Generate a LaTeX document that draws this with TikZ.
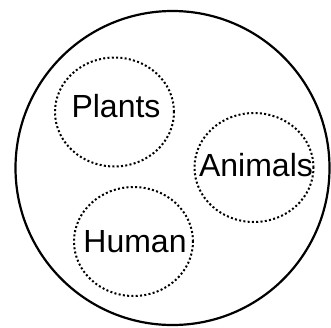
\documentclass[tikz,border=0pt]{standalone}
\usepackage{fontspec}
\setmainfont{Liberation Sans}
\usetikzlibrary{shapes.geometric}
\tikzset{
  mondo/.style={circle,draw,line width=2.2pt,minimum size=314pt,inner sep=0pt},
  gruppo/.style={ellipse,draw,line width=2pt,dash pattern=on 2pt off 2.3pt,
    minimum width=119pt,minimum height=109pt,inner sep=0pt},
  etichetta/.style={anchor=base,inner sep=0pt,font=\fontsize{32}{38}\selectfont}
}
\begin{document}
\begin{tikzpicture}[x=1pt,y=-1pt]
\useasboundingbox (0,0) rectangle (331,327);

% cerchio esterno
\node[mondo] (mondo) at (172.5,168) {};

% insiemi tratteggiati
\node[gruppo] (piante) at (114.5,112) {};
\node[gruppo] (animali) at (254,167.5) {};
\node[gruppo] (umani) at (133.5,241.5) {};

% etichette
\node[etichetta] (pianteL) at (116,117) {Plants};
\node[etichetta] (animaliL) at (256,176) {Animals};
\node[etichetta] (umaniL) at (135,252) {Human};

\end{tikzpicture}
\end{document}
